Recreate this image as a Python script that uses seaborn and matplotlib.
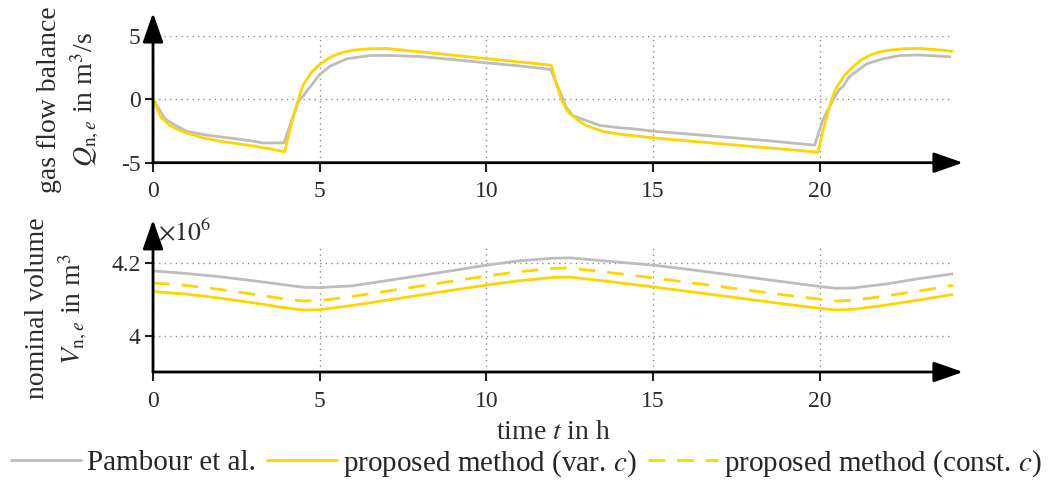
import matplotlib
matplotlib.use("Agg")
import matplotlib.pyplot as plt
import pandas as pd
import seaborn as sns

# gas flow balance Q_{n,e} in m^3/s
t_q_pambour = [0, 0.36, 0.6, 1, 1.5, 2, 2.5, 3, 3.3, 3.93, 4.36, 4.5, 4.75, 5, 5.31,
               5.81, 6.5, 7, 8, 9, 10, 11, 11.93, 12.41, 12.6, 12.91, 13.41, 14, 14.41,
               15, 16, 17.4, 18.5, 19.85, 20.1, 20.41, 20.6, 20.71, 20.86, 21.0, 21.41,
               21.9, 22.41, 23, 23.91]
q_pambour = [0, -1.55, -1.95, -2.52, -2.78, -2.96, -3.12, -3.3, -3.45, -3.44, -0.15,
             0.24, 1.1, 1.94, 2.6, 3.18, 3.44, 3.45, 3.36, 3.12, 2.86, 2.62, 2.34, -0.7,
             -1.3, -1.6, -2.07, -2.25, -2.33, -2.52, -2.73, -3.04, -3.28, -3.62, -1.6,
             0, 0.8, 1.02, 1.68, 2.0, 2.78, 3.18, 3.44, 3.48, 3.34]

t_q_var = [0, 0.1, 0.25, 0.5, 0.75, 1, 1.5, 2, 2.5, 3, 3.5, 3.95, 4.1, 4.25, 4.4, 4.5,
           4.75, 5, 5.25, 5.5, 5.75, 6, 6.5, 7, 8, 9, 10, 11, 11.95, 12.1, 12.25, 12.4,
           12.5, 12.75, 13, 13.5, 14, 15, 16, 17, 18, 19, 19.95, 20.1, 20.25, 20.4, 20.5,
           20.75, 21, 21.25, 21.5, 21.75, 22, 22.5, 23, 23.5, 24]
q_var = [0, -0.6, -1.45, -2.07, -2.39, -2.65, -3.04, -3.3, -3.49, -3.68, -3.9, -4.15,
         -2.5, -1.0, 0.3, 1.1, 2.1, 2.73, 3.2, 3.52, 3.72, 3.86, 3.97, 4.0, 3.73, 3.47,
         3.2, 2.93, 2.68, 1.2, 0.0, -0.8, -1.13, -1.65, -2.07, -2.55, -2.75, -3.04, -3.27,
         -3.5, -3.73, -3.95, -4.17, -2.5, -1.0, 0.3, 0.9, 1.9, 2.55, 3.1, 3.45, 3.68, 3.83,
         3.97, 4.0, 3.9, 3.76]

# nominal volume V_{n,e} in 10^6 m^3
t_v = [0, 1, 2, 3, 4, 4.5, 5, 6, 7, 8, 9, 10, 11, 12, 12.5, 13, 14, 15, 16, 17, 18, 19,
       20, 20.5, 21, 22, 23, 24]
v_pambour = [4.179, 4.172, 4.163, 4.152, 4.140, 4.134, 4.133, 4.138, 4.152, 4.166, 4.180,
             4.195, 4.207, 4.214, 4.215, 4.211, 4.203, 4.195, 4.184, 4.172, 4.160, 4.148,
             4.136, 4.131, 4.132, 4.143, 4.158, 4.171]
v_var = [4.122, 4.115, 4.104, 4.091, 4.077, 4.071, 4.072, 4.084, 4.098, 4.112, 4.126,
         4.140, 4.152, 4.161, 4.162, 4.157, 4.146, 4.135, 4.123, 4.111, 4.099, 4.087,
         4.076, 4.071, 4.073, 4.085, 4.099, 4.114]
v_const = [4.146, 4.139, 4.128, 4.115, 4.101, 4.096, 4.097, 4.109, 4.123, 4.137, 4.151,
           4.165, 4.177, 4.186, 4.187, 4.182, 4.171, 4.160, 4.148, 4.136, 4.124, 4.112,
           4.101, 4.096, 4.098, 4.110, 4.124, 4.139]

series_labels = ["Pambour et al.", "proposed method (var. $c$)",
                 "proposed method (const. $c$)"]
x_ticks = [0, 5, 10, 15, 20]
x_tick_labels = ["0", "5", "10", "15", "20"]
q_ticks = [-5, 0, 5]
q_tick_labels = ["-5", "0", "5"]
v_ticks = [4.0, 4.2]
v_tick_labels = ["4", "4.2"]

GRAY = "#bdbdbd"
GOLD = "#ffd500"
INK = "#1f1f1f"
TXT = "#2b2b2b"

sns.set_theme(style="white")
plt.rcParams["font.family"] = ["Liberation Serif", "DejaVu Serif"]
plt.rcParams["mathtext.fontset"] = "stix"
plt.rcParams["axes.unicode_minus"] = False

fig = plt.figure(figsize=(10.49, 4.83), dpi=100)
W, H = 1049, 483
ax_q = fig.add_axes([153 / W, (H - 162.7) / H, 800 / W, 127 / H])
ax_v = fig.add_axes([153 / W, (H - 372) / H, 800 / W, 126.8 / H])

df_q_p = pd.DataFrame({"t": t_q_pambour, "q": q_pambour})
df_q_v = pd.DataFrame({"t": t_q_var, "q": q_var})
df_v = pd.DataFrame({"t": t_v, "pambour": v_pambour, "var": v_var, "const": v_const})

sns.lineplot(data=df_q_p, x="t", y="q", ax=ax_q, color=GRAY, lw=2.0, label=series_labels[0])
sns.lineplot(data=df_q_v, x="t", y="q", ax=ax_q, color=GOLD, lw=2.0, label=series_labels[1])

sns.lineplot(data=df_v, x="t", y="pambour", ax=ax_v, color=GRAY, lw=2.0,
             label=series_labels[0])
sns.lineplot(data=df_v, x="t", y="var", ax=ax_v, color=GOLD, lw=2.0,
             label=series_labels[1])
sns.lineplot(data=df_v, x="t", y="const", ax=ax_v, color=GOLD, lw=2.0,
             linestyle=(0, (6, 4.3)), label=series_labels[2])

ax_q.set_xlim(0, 24)
ax_q.set_ylim(-5, 5)
ax_v.set_xlim(0, 24)
ax_v.set_ylim(3.9, 4.25)

ARROW = dict(arrowstyle="-|>,head_length=0.4,head_width=0.14", mutation_scale=45,
             color="black", lw=2.0, shrinkA=0, shrinkB=0)

for ax, yt, ytl in [(ax_q, q_ticks, q_tick_labels), (ax_v, v_ticks, v_tick_labels)]:
    ax.set_facecolor("none")
    for s in ax.spines.values():
        s.set_visible(False)
    ax.set_xticks(x_ticks)
    ax.set_xticklabels(x_tick_labels)
    ax.set_yticks(yt)
    ax.set_yticklabels(ytl)
    ax.tick_params(axis="x", direction="out", length=6.5, width=1.5, color=INK,
                   labelsize=17, labelcolor=TXT, pad=7, bottom=True)
    ax.tick_params(axis="y", direction="out", length=6, width=1.5, color=INK,
                   labelsize=17, labelcolor=TXT, pad=3, left=True)
    ax.grid(True, color="#8c8c8c", linestyle=(0, (1, 3)), linewidth=1.0)
    ax.set_axisbelow(True)
    ax.set_xlabel("")
    ax.get_legend().remove()
    # horizontal axis line with arrow head
    ax.annotate("", xy=(1.0125, 0), xytext=(0, 0), xycoords="axes fraction",
                textcoords="axes fraction", annotation_clip=False, arrowprops=ARROW)

# vertical axis lines with arrow heads
ax_q.annotate("", xy=(0, 1.179), xytext=(0, 0), xycoords="axes fraction",
              textcoords="axes fraction", annotation_clip=False, arrowprops=ARROW)
ax_v.annotate("", xy=(0, 1.2), xytext=(0, 0), xycoords="axes fraction",
              textcoords="axes fraction", annotation_clip=False, arrowprops=ARROW)

ax_q.set_ylabel("gas flow balance\n$Q_{\\mathrm{n},e}$ in m$^3$/s", fontsize=20,
                color=TXT, linespacing=1.25)
ax_q.yaxis.set_label_coords(-0.064, 0.5)
ax_v.set_ylabel("nominal volume\n$V_{\\mathrm{n},e}$ in m$^3$", fontsize=20,
                color=TXT, linespacing=1.25)
ax_v.yaxis.set_label_coords(-0.079, 0.5)

ax_v.text(0.006, 1.04, "$\\times10^6$", transform=ax_v.transAxes, fontsize=18.5,
          color=TXT, ha="left", va="baseline")
ax_v.set_xlabel("time $t$ in h", fontsize=20, color=TXT, labelpad=6)

handles, labels = ax_v.get_legend_handles_labels()
fig.legend(handles, labels, loc="center", bbox_to_anchor=(0.502, 0.041), ncol=3,
           frameon=False, fontsize=21, handlelength=2.4, handletextpad=0.2,
           columnspacing=0.4, borderaxespad=0, borderpad=0)

fig.savefig("out.png", dpi=100)
